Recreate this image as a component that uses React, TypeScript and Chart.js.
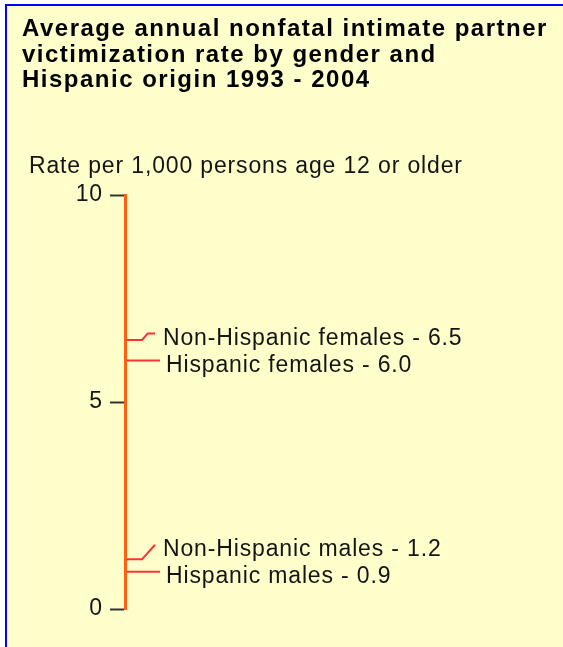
import React, { useEffect, useRef } from 'react';
import { Chart, registerables } from 'chart.js';

Chart.register(...registerables);

const titleLines = [
  'Average annual nonfatal intimate partner',
  'victimization rate by gender and',
  'Hispanic origin 1993 - 2004',
];
const axisTitle = 'Rate per 1,000 persons age 12 or older';
const categories = ['Non-Hispanic females', 'Hispanic females', 'Non-Hispanic males', 'Hispanic males'];
const rates = [6.5, 6.0, 1.2, 0.9];
const rateLabels = ['6.5', '6.0', '1.2', '0.9'];
const yTicks = [0, 5, 10];

const FAMILY = '"Liberation Sans", Arial, Helvetica, sans-serif';
const BODY_SPACING = '0.85px';

const annotPlugin = {
  id: 'annot',
  beforeDraw(chart: any) {
    const ctx = chart.ctx;
    ctx.save();
    ctx.textAlign = 'left';
    ctx.textBaseline = 'alphabetic';
    ctx.letterSpacing = '1.5px';
    ctx.fillStyle = '#000000';
    ctx.font = `bold 24px ${FAMILY}`;
    titleLines.forEach((t, i) => ctx.fillText(t, 15, 30 + i * 25.7));
    ctx.letterSpacing = BODY_SPACING;
    ctx.font = `23px ${FAMILY}`;
    ctx.fillStyle = '#141414';
    ctx.fillText(axisTitle, 22, 167);
    ctx.restore();
    ctx.letterSpacing = BODY_SPACING;
  },
  afterDraw(chart: any) {
    const ctx = chart.ctx;
    const yScale = chart.scales.y;
    const left = chart.chartArea.left;
    const order = rates.map((_, i) => i).sort((a, b) => rates[a] - rates[b]);
    const labelY: number[] = [];
    let prev = Infinity;
    order.forEach((i) => {
      const py = yScale.getPixelForValue(rates[i]);
      const ly = Math.min(py, prev - 27);
      labelY[i] = ly;
      prev = ly;
    });
    ctx.save();
    ctx.letterSpacing = BODY_SPACING;
    ctx.strokeStyle = '#ff3333';
    ctx.lineWidth = 2;
    ctx.font = `23px ${FAMILY}`;
    ctx.fillStyle = '#141414';
    ctx.textAlign = 'left';
    ctx.textBaseline = 'alphabetic';
    rates.forEach((v, i) => {
      const py = yScale.getPixelForValue(v);
      const ly = labelY[i];
      ctx.beginPath();
      let tx;
      if (Math.abs(py - ly) < 0.5) {
        ctx.moveTo(left + 1.5, py);
        ctx.lineTo(left + 35, py);
        tx = left + 41;
      } else {
        const dy = py - ly;
        ctx.moveTo(left + 1.5, py);
        ctx.lineTo(left + 17, py);
        ctx.lineTo(left + 17 + Math.min(13, dy * 0.9), ly);
        ctx.lineTo(left + 30, ly);
        tx = left + 38;
      }
      ctx.stroke();
      ctx.fillText(`${categories[i]} - ${rateLabels[i]}`, tx, ly + 11);
    });
    ctx.restore();
  },
};

export default function App() {
  const ref = useRef<HTMLCanvasElement | null>(null);

  useEffect(() => {
    if (!ref.current) return;
    const chart = new Chart(ref.current, {
      type: 'scatter',
      data: {
        datasets: [
          {
            label: 'Rate',
            data: rates.map((v) => ({ x: 0, y: v })),
            pointRadius: 0,
            showLine: false,
          },
        ],
      },
      options: {
        animation: false,
        responsive: false,
        events: [],
        layout: { padding: { top: 189, left: 15, right: 20, bottom: 38 } },
        plugins: {
          legend: { display: false },
          tooltip: { enabled: false },
          title: { display: false },
        },
        scales: {
          x: { display: false, min: 0, max: 1 },
          y: {
            min: 0,
            max: 10,
            afterBuildTicks: (scale: any) => {
              scale.ticks = yTicks.map((v) => ({ value: v }));
            },
            afterFit: (scale: any) => {
              scale.width = 103;
            },
            ticks: {
              font: { size: 23, family: FAMILY },
              color: '#141414',
              padding: 7,
            },
            grid: {
              drawOnChartArea: false,
              drawTicks: true,
              tickLength: 15,
              tickWidth: 2,
              tickColor: '#333333',
              color: '#333333',
            },
            border: { display: true, color: '#ff6011', width: 3 },
          },
        },
      },
      plugins: [annotPlugin],
    } as any);
    return () => chart.destroy();
  }, []);

  return (
    <div
      style={{
        position: 'fixed',
        left: 0,
        top: 0,
        width: 563,
        height: 647,
        background: '#ffffff',
        overflow: 'hidden',
      }}
    >
      <div
        style={{
          position: 'absolute',
          left: 5,
          top: 4,
          width: 558,
          height: 643,
          boxSizing: 'border-box',
          borderTop: '2px solid #0000ff',
          borderLeft: '2px solid #0000ff',
          background: '#ffffcc',
        }}
      >
        <canvas
          ref={ref}
          width={556}
          height={641}
          style={{ position: 'absolute', left: 0, top: 0, width: 556, height: 641 }}
        />
      </div>
    </div>
  );
}
